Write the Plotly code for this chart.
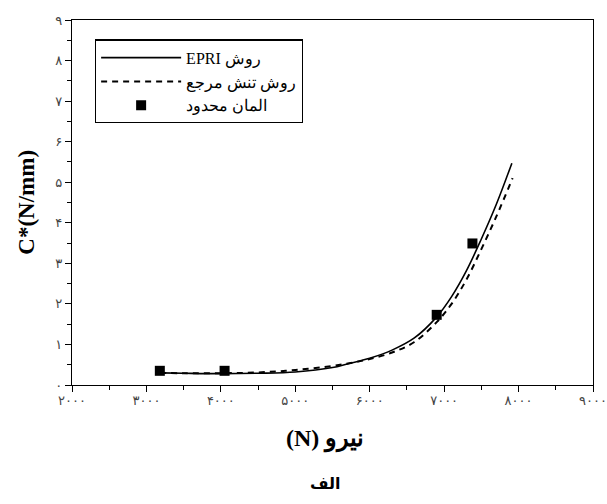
import plotly.graph_objects as go

# Data
epri_x = [3180, 3500, 4000, 4500, 5000, 5500, 5700, 6000, 6300, 6600, 6900, 7100, 7300, 7500, 7700, 7910]
epri_y = [0.30, 0.29, 0.28, 0.29, 0.32, 0.43, 0.52, 0.66, 0.86, 1.16, 1.68, 2.18, 2.82, 3.60, 4.45, 5.47]

ref_x = [3180, 3500, 4000, 4500, 5000, 5500, 5800, 6000, 6300, 6600, 6900, 7100, 7300, 7500, 7700, 7920]
ref_y = [0.30, 0.29, 0.29, 0.31, 0.37, 0.47, 0.56, 0.64, 0.80, 1.06, 1.55, 2.00, 2.60, 3.35, 4.15, 5.10]

fem_x = [3180, 4050, 6900, 7380]
fem_y = [0.35, 0.35, 1.73, 3.49]

x_ticks = [2000, 3000, 4000, 5000, 6000, 7000, 8000, 9000]
x_labels = ["۲۰۰۰", "۳۰۰۰", "۴۰۰۰", "۵۰۰۰", "۶۰۰۰", "۷۰۰۰", "۸۰۰۰", "۹۰۰۰"]
y_ticks = [0, 1, 2, 3, 4, 5, 6, 7, 8, 9]
y_labels = ["۰", "۱", "۲", "۳", "۴", "۵", "۶", "۷", "۸", "۹"]

# series names (written in visual order for left-to-right SVG text)
names = ["EPRI روش", "روش تنش مرجع", "المان محدود"]
x_title = "(N) نیرو"
y_title = "C*(N/mm)"
caption = "الف"

fig = go.Figure()
fig.add_trace(go.Scatter(x=epri_x, y=epri_y, mode="lines", name=names[0],
                         line=dict(color="black", width=1.6, shape="spline")))
fig.add_trace(go.Scatter(x=ref_x, y=ref_y, mode="lines", name=names[1],
                         line=dict(color="black", width=2, dash="6px,5px", shape="spline")))
fig.add_trace(go.Scatter(x=fem_x, y=fem_y, mode="markers", name=names[2],
                         marker=dict(symbol="square", size=10, color="black")))

axis_common = dict(showgrid=False, zeroline=False, showline=True, linecolor="black",
                   linewidth=1.2, mirror=True, ticks="outside", ticklen=6, tickcolor="black",
                   automargin=False,
                   tickfont=dict(family="DejaVu Sans", size=13, color="#444"))

fig.update_xaxes(range=[2000, 9000], tickvals=x_ticks, ticktext=x_labels,
                 ticklabelstandoff=-3,
                 minor=dict(ticks="outside", ticklen=4, dtick=500, tick0=2000, tickcolor="black"),
                 **axis_common)
fig.update_yaxes(range=[0, 9], tickvals=y_ticks, ticktext=y_labels,
                 minor=dict(ticks="outside", ticklen=4, dtick=0.5, tick0=0, tickcolor="black"),
                 **axis_common)

fig.add_annotation(text="<b>" + y_title + "</b>", xref="paper", yref="paper", x=-0.088, y=0.5,
                   textangle=-90, showarrow=False, xanchor="center", yanchor="middle",
                   font=dict(family="Liberation Serif", size=23, color="black"))
fig.add_annotation(text="<b>" + x_title + "</b>", xref="paper", yref="paper", x=0.486, y=-0.148,
                   showarrow=False, xanchor="center", yanchor="middle",
                   font=dict(family="Liberation Serif", size=24, color="black"))
fig.add_annotation(text="<b>" + caption + "</b>", xref="paper", yref="paper", x=0.486, y=-0.27,
                   showarrow=False, xanchor="center", yanchor="middle",
                   font=dict(family="DejaVu Sans", size=16, color="black"))

fig.update_layout(
    width=607, height=504,
    margin=dict(l=72, r=14, t=20, b=119),
    plot_bgcolor="white", paper_bgcolor="white",
    legend=dict(x=0.044, y=0.9466, xanchor="left", yanchor="top",
                bordercolor="black", borderwidth=1.2, bgcolor="white",
                font=dict(family="Liberation Serif", size=16, color="black"),
                itemwidth=80, tracegroupgap=0),
    showlegend=True,
)

fig.write_html("out.html", config={"displayModeBar": False},
               post_script="document.body.style.margin='0px';document.body.style.padding='0px';"
                           "document.body.style.overflow='hidden';document.documentElement.style.overflow='hidden';")
